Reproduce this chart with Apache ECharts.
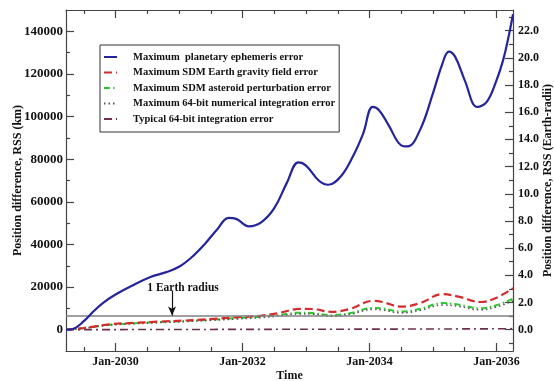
<!DOCTYPE html>
<html>
<head>
<meta charset="utf-8">
<script src="https://cdn.jsdelivr.net/npm/echarts@6/dist/echarts.min.js"></script>
<style>
  html, body { margin: 0; padding: 0; background: #fff; }
  #chart { width: 554px; height: 381px; }
</style>
</head>
<body>
<div id="chart"></div>
<script>
// Time in decimal years
const blueYears = [2029.22, 2029.35, 2029.5, 2029.65, 2029.8, 2030.0, 2030.25, 2030.55, 2030.8, 2031.0,
  2031.2, 2031.4, 2031.6, 2031.78, 2031.9, 2032.1, 2032.3, 2032.5, 2032.7, 2032.88,
  2033.0, 2033.2, 2033.35, 2033.55, 2033.75, 2033.9, 2034.05, 2034.15, 2034.3, 2034.5,
  2034.6, 2034.8, 2035.0, 2035.15, 2035.25, 2035.35, 2035.5, 2035.7, 2035.85, 2036.0,
  2036.1, 2036.18, 2036.26];
// Maximum planetary ephemeris error (km)
const ephemerisErr = [0, 600, 4000, 8500, 12500, 16500, 20500, 24700, 27000, 29500,
  34000, 40000, 47000, 52500, 52000, 48500, 50500, 57000, 69000, 78500,
  77000, 70000, 68000, 72000, 82000, 92000, 104500, 103000, 96000, 86500,
  86000, 94000, 111000, 125000, 130500, 128000, 117000, 104500, 107000, 117000,
  126000, 136000, 148000];

const smallYears = [2029.22, 2029.5, 2029.9, 2030.3, 2030.7, 2031.1, 2031.5, 2031.9, 2032.3, 2032.6,
  2032.9, 2033.1, 2033.4, 2033.7, 2034.05, 2034.2, 2034.5, 2034.8, 2035.15, 2035.4,
  2035.75, 2036.0, 2036.26];
// Maximum SDM Earth gravity field error (km)
const gravityErr = [0, 800, 2500, 3200, 3800, 4300, 5000, 5800, 6600, 8000,
  9800, 9700, 8400, 9800, 13500, 13000, 10800, 12500, 16700, 15500,
  13000, 15000, 19500];
// Maximum SDM asteroid perturbation error (km)
const asteroidErr = [0, 700, 2300, 3000, 3600, 4100, 4700, 5400, 6100, 7000,
  8000, 7800, 6800, 7800, 10200, 10000, 8500, 9800, 12500, 11800,
  10000, 11500, 14500];
// Maximum 64-bit numerical integration error (km)
const numIntErr = [0, 650, 2150, 2800, 3350, 3800, 4400, 5000, 5700, 6500,
  7400, 7300, 6300, 7300, 9500, 9300, 7900, 9100, 11600, 11000,
  9300, 10700, 13500];
// Typical 64-bit integration error (km)
const typicalErr = [0, 20, 40, 60, 80, 100, 120, 140, 160, 180,
  200, 210, 220, 240, 260, 270, 290, 310, 340, 360,
  390, 420, 480];

const seriesNames = [
  'Maximum  planetary ephemeris error',
  'Maximum SDM Earth gravity field error',
  'Maximum SDM asteroid perturbation error',
  'Maximum 64-bit numerical integration error',
  'Typical 64-bit integration error'
];

// Axis ticks
const xLabelYears = [2030, 2032, 2034, 2036];
const xMinorYears = [2029.5, 2030.5, 2031, 2031.5, 2032.5, 2033, 2033.5, 2034.5, 2035, 2035.5];
const kmLabels = [0, 20000, 40000, 60000, 80000, 100000, 120000, 140000];
const kmMinor = [10000, 30000, 50000, 70000, 90000, 110000, 130000];
const erLabels = [0, 2, 4, 6, 8, 10, 12, 14, 16, 18, 20, 22];
const erMinor = [-1, 1, 3, 5, 7, 9, 11, 13, 15, 17, 19, 21, 23];

const EARTH_RADIUS_KM = 6378;
const X_MIN = 2029.22, X_MAX = 2036.26;
const KM_MIN = -10000, KM_MAX = 150000;
const annotYear = 2030.89, annotTopKm = 18300;

const zip = (xs, ys) => xs.map((x, i) => [x, ys[i]]);

const FONT = 'Liberation Serif';
const frame = { show: true, onZero: false, lineStyle: { color: '#444', width: 1.2 } };
const nameStyle = { fontFamily: FONT, fontSize: 12, fontWeight: 'bold', color: '#111' };

function xAxisDef(pos, values, len, withLabels, showLine) {
  return {
    type: 'value', position: pos, min: X_MIN, max: X_MAX,
    axisLine: showLine ? frame : { show: false, onZero: false },
    splitLine: { show: false },
    axisTick: { show: true, inside: true, length: len, customValues: values,
      lineStyle: { color: '#444', width: 1.2 } },
    axisLabel: withLabels ? {
      show: true, customValues: values, margin: 5,
      fontFamily: FONT, fontSize: 12, fontWeight: 'bold', color: '#111',
      formatter: v => 'Jan-' + Math.round(v)
    } : { show: false }
  };
}

function yAxisDef(pos, min, max, values, len, labelFmt, showLine, fontSize) {
  return {
    type: 'value', position: pos, min: min, max: max,
    axisLine: showLine ? frame : { show: false, onZero: false },
    splitLine: { show: false },
    axisTick: { show: true, inside: true, length: len, customValues: values,
      lineStyle: { color: '#444', width: 1.2 } },
    axisLabel: labelFmt ? {
      show: true, customValues: values, margin: pos === 'left' ? 3 : 5,
      fontFamily: FONT, fontSize: fontSize, fontWeight: 'bold', color: '#111',
      formatter: labelFmt
    } : { show: false }
  };
}

const left = yAxisDef('left', KM_MIN, KM_MAX, kmLabels, 8, v => String(Math.round(v)), true, 13);
Object.assign(left, {
  name: 'Position difference, RSS (km)', nameLocation: 'middle', nameRotate: 90,
  nameGap: 42, nameMoveOverlap: false, nameTextStyle: nameStyle
});

const right = yAxisDef('right', KM_MIN / EARTH_RADIUS_KM, KM_MAX / EARTH_RADIUS_KM, erLabels, 8,
  v => v.toFixed(1), true, 12);
Object.assign(right, {
  name: 'Position difference, RSS (Earth-radii)', nameLocation: 'middle', nameRotate: 90,
  nameGap: 29, nameMoveOverlap: false, nameTextStyle: nameStyle
});

const bottom = xAxisDef('bottom', xLabelYears, 8, true, true);
Object.assign(bottom, {
  name: 'Time', nameLocation: 'middle', nameGap: 19, nameMoveOverlap: false, nameTextStyle: nameStyle
});

const option = {
  animation: false,
  backgroundColor: '#fff',
  grid: { left: 66, right: 41, top: 10, bottom: 30, containLabel: false, outerBoundsMode: 'none' },
  xAxis: [
    bottom,
    xAxisDef('top', xLabelYears, 8, false, true),
    xAxisDef('bottom', xMinorYears, 4, false, false),
    xAxisDef('top', xMinorYears, 4, false, false)
  ],
  yAxis: [
    left,
    right,
    yAxisDef('left', KM_MIN, KM_MAX, kmMinor, 4, null, false),
    yAxisDef('right', KM_MIN / EARTH_RADIUS_KM, KM_MAX / EARTH_RADIUS_KM, erMinor, 4, null, false)
  ],
  legend: {
    orient: 'vertical', left: 100, top: 45,
    data: seriesNames,
    selectedMode: false,
    backgroundColor: '#fff',
    borderColor: '#333', borderWidth: 1, borderRadius: 0,
    padding: [5, 4, 6, 3],
    itemWidth: 13, itemHeight: 10, itemGap: 1.5,
    itemStyle: { opacity: 0 },
    textStyle: { fontFamily: FONT, fontSize: 10.5, fontWeight: 'bold', color: '#111',
      lineHeight: 14, padding: [0, 0, 0, 11] }
  },
  series: [
    {
      name: seriesNames[0], type: 'line', smooth: 0.4, symbol: 'none',
      data: zip(blueYears, ephemerisErr), z: 5,
      lineStyle: { color: '#24249c', width: 2.2 }, itemStyle: { color: '#24249c' },
      markLine: {
        silent: true, animation: false,
        symbol: ['none', 'none'],
        data: [
          {
            yAxis: EARTH_RADIUS_KM,
            lineStyle: { color: '#808080', width: 1.5, type: 'solid' },
            label: { show: false }
          },
          [
            {
              coord: [annotYear, annotTopKm], symbol: 'none',
              lineStyle: { color: '#111', width: 1.2, type: 'solid' },
              label: {
                show: true, position: 'start', distance: -3,
                padding: [0, 0, 0, 22],
                formatter: '1 Earth radius',
                fontFamily: FONT, fontSize: 11.5, fontWeight: 'bold', color: '#111'
              }
            },
            { coord: [annotYear, EARTH_RADIUS_KM + 300], symbol: 'arrow', symbolSize: [6, 9] }
          ]
        ]
      }
    },
    {
      name: seriesNames[1], type: 'line', smooth: 0.4, symbol: 'none',
      data: zip(smallYears, gravityErr), z: 4,
      lineStyle: { color: '#d42c2c', width: 2.2, type: [8, 4] }, itemStyle: { color: '#d42c2c' }
    },
    {
      name: seriesNames[2], type: 'line', smooth: 0.4, symbol: 'none',
      data: zip(smallYears, asteroidErr), z: 3,
      lineStyle: { color: '#2ec82e', width: 2, type: [6, 3, 1.5, 3] }, itemStyle: { color: '#2ec82e' }
    },
    {
      name: seriesNames[3], type: 'line', smooth: 0.4, symbol: 'none',
      data: zip(smallYears, numIntErr), z: 3,
      lineStyle: { color: '#555', width: 1.6, type: [1.5, 3] }, itemStyle: { color: '#555' }
    },
    {
      name: seriesNames[4], type: 'line', smooth: 0.4, symbol: 'none',
      data: zip(smallYears, typicalErr), z: 3,
      lineStyle: { color: '#6e2f4e', width: 1.6, type: [8, 4, 2, 4] }, itemStyle: { color: '#6e2f4e' }
    }
  ]
};

const chart = echarts.init(document.getElementById('chart'), null, { renderer: 'canvas' });
chart.setOption(option);
</script>
</body>
</html>
